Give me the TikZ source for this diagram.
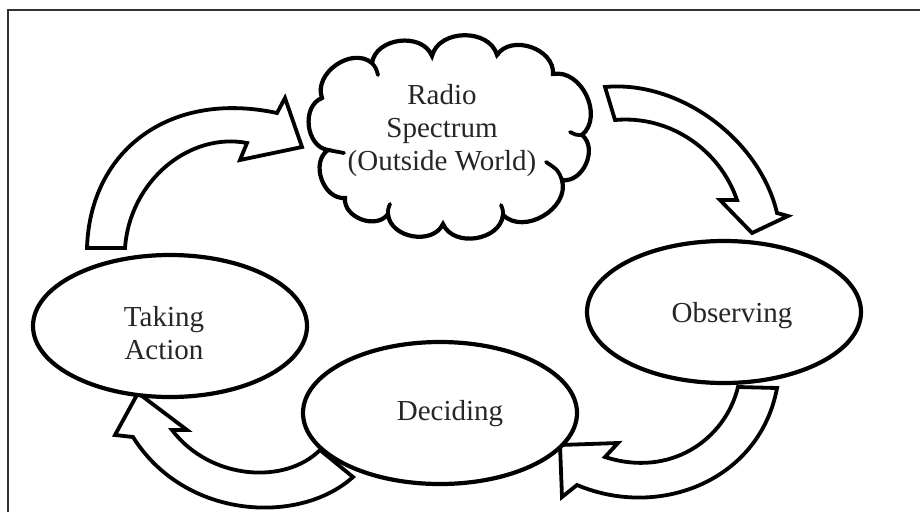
\documentclass[tikz,border=0pt]{standalone}
\usepackage{fontspec}
\setmainfont{Liberation Serif}
\usetikzlibrary{shapes.geometric}
\begin{document}
\begin{tikzpicture}[x=1pt,y=-1pt]
\tikzset{
  stage/.style={ellipse, draw=black, line width=4.2pt, fill=white,
    minimum width=274pt, minimum height=142pt, inner sep=0pt},
  puff/.style={bend left=75, looseness=1.1},
  cloudline/.style={draw=black, line width=4.2pt, fill=white, line join=miter},
  caption/.style={align=center, text=black!85, inner sep=0pt,
    font=\fontsize{29}{33}\selectfont},
  curl/.style={draw=black, line width=3.8pt, line cap=round},
  blockarrow/.style={draw=black, line width=3.8pt, fill=white, line join=miter},
  frameline/.style={draw=black!80, line width=1.3pt}
}
\useasboundingbox (0,0) rectangle (920,512);
\fill[white] (0,0) rectangle (920,512);
\draw[frameline] (8,512) -- (8,10) -- (920,10);

% curved block arrows of the cycle
\draw[blockarrow] (87,248) .. controls (90,150) and (170,90) .. (277,113)
  -- (285,98) -- (302,147) -- (240,160) -- (247,143)
  .. controls (190,132) and (130,180) .. (125,248) -- cycle;
\draw[blockarrow] (605,87) .. controls (680,80) and (760,140) .. (777,213)
  -- (788,216) -- (752,233) -- (720,200) -- (737,200)
  .. controls (720,150) and (670,115) .. (615,120) -- cycle;
\draw[blockarrow] (777,388) .. controls (760,480) and (660,520) .. (577,485)
  -- (562,497) -- (560,445) -- (618,443) -- (605,457)
  .. controls (670,478) and (725,440) .. (738,387) -- cycle;
\draw[blockarrow] (353,477) .. controls (300,525) and (185,520) .. (133,437)
  -- (115,435) -- (138,393) -- (187,430) -- (172,430)
  .. controls (210,480) and (285,485) .. (320,450) -- cycle;

% the outside world: a cloud made of puffs between cusp points
\coordinate (c1) at (328,150);
\coordinate (c2) at (322,98);
\coordinate (c3) at (372,63);
\coordinate (c4) at (432,56);
\coordinate (c5) at (497,55);
\coordinate (c6) at (553,74);
\coordinate (c7) at (582,135);
\coordinate (c8) at (562,180);
\coordinate (c9) at (503,215);
\coordinate (c10) at (443,224);
\coordinate (c11) at (388,214);
\coordinate (c12) at (345,198);
\draw[cloudline] (c1) to[puff] (c2) to[puff] (c3) to[puff] (c4) to[puff] (c5)
  to[puff] (c6) to[puff] (c7) to[puff] (c8) to[puff] (c9) to[puff] (c10)
  to[puff] (c11) to[puff] (c12) to[puff] (c1) -- cycle;
\draw[curl] (c1) .. controls ++(8,2) .. ++(16,3);
\draw[curl] (c3) .. controls ++(4,5) .. ++(6,12);
\draw[curl] (c7) .. controls ++(-6,0) .. ++(-12,-3);
\draw[curl] (c8) .. controls ++(-4,-10) .. ++(-16,-18);
\draw[curl] (c9) .. controls ++(0,-5) .. ++(-2,-10);
\draw[curl] (c11) .. controls ++(0,-5) .. ++(2,-10);
\node[caption] (spectrum) at (442,131) {Radio\\Spectrum\\(Outside World)};

% stages
\node[stage] (act) at (170,326) {};
\node[stage] (obs) at (724,312) {};
\node[stage] (dec) at (440,413) {};
\node[caption] (act-text) at (164,333) {Taking\\Action};
\node[caption] (obs-text) at (732,316) {Observing};
\node[caption] (dec-text) at (450,414) {Deciding};
\end{tikzpicture}
\end{document}
